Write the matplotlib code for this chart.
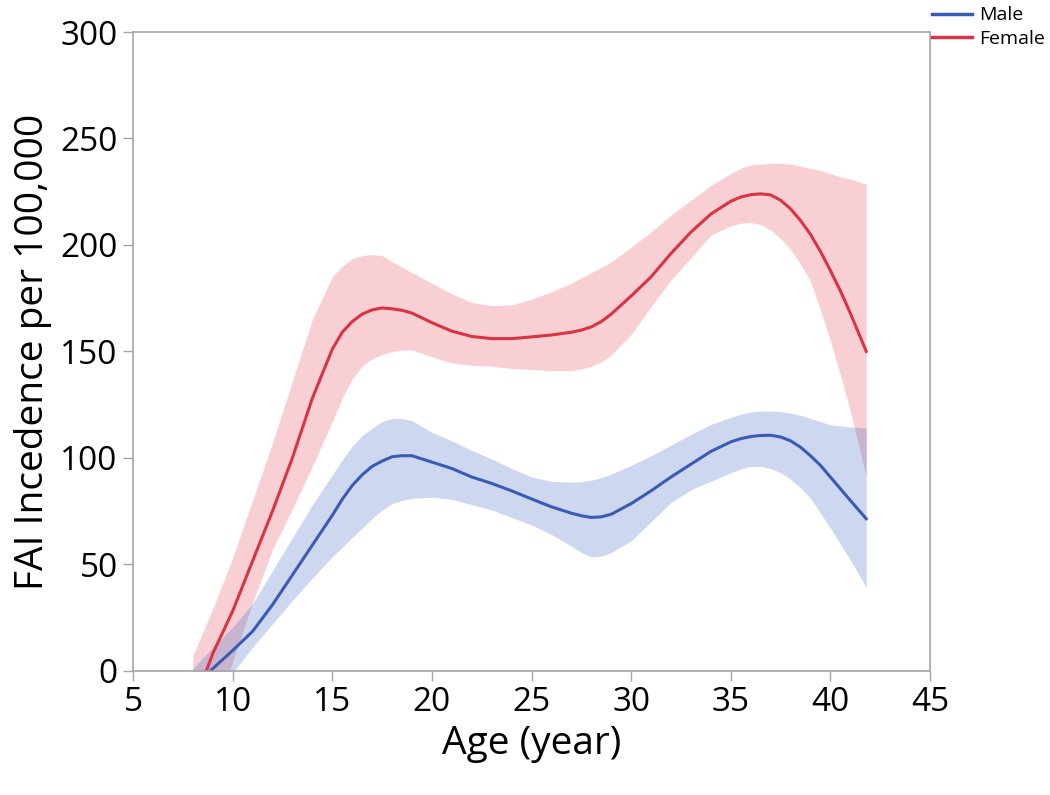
import numpy as np
import matplotlib.pyplot as plt
from matplotlib.lines import Line2D

plt.rcParams['font.family'] = ['Open Sans', 'DejaVu Sans']

ages = [8, 9, 10, 11, 12, 13, 14, 15, 15.5, 16, 16.5, 17, 17.5, 18, 18.5, 19,
        20, 21, 22, 23, 24, 25, 26, 27, 27.5, 28, 28.5, 29, 30, 31, 32, 33, 34,
        35, 35.5, 36, 36.5, 37, 37.5, 38, 38.5, 39, 39.5, 40, 40.5, 41, 41.8]

female_mean = [-17, 8, 28, 51.5, 75, 100, 128, 151, 159, 164, 167.5, 169.5,
               170.4, 170, 169.3, 168, 163.5, 159.5, 157, 156, 156, 156.8, 157.7,
               159, 160, 161.5, 164, 167.5, 176, 185, 196, 206, 214.5, 220.5,
               222.5, 223.6, 224, 223.5, 221, 217, 211.5, 205, 197, 188, 178.5,
               168, 150]
female_upper = [7, 29, 53, 80, 107, 136, 165, 185, 190, 193.5, 195, 195.5, 195,
                192, 189.5, 187, 182, 177, 173, 171.5, 171.8, 174.5, 178, 182,
                184.5, 187, 189.5, 192, 199, 206, 214, 221, 228, 233.5, 236,
                237.5, 238, 238.3, 238.3, 238, 237, 236, 235, 233.5, 232, 231,
                228.5]
female_lower = [-50, -24, 4, 32, 57, 76, 96, 117, 128, 137, 143, 146.5, 148.5,
                150, 150.5, 150.7, 147.5, 144.5, 143.5, 143, 142, 141.5, 141,
                141, 141.8, 143, 145, 148.4, 158, 171, 183.5, 194, 204.5, 209,
                210.2, 210.6, 209.5, 207, 203, 198, 191, 183, 169.5, 155, 139,
                122, 91]

male_mean = [-8, 1, 9.5, 18.5, 31, 45, 59, 73, 80.5, 87, 92, 96, 98.5, 100.5,
             101, 101, 98, 95, 91, 88, 84.5, 80.7, 77, 74, 72.8, 72, 72.3, 73.5,
             78.5, 84.5, 91, 97, 103, 107.5, 109, 110, 110.5, 110.6, 109.8, 108,
             105, 101, 96.5, 91, 85.5, 80, 71.4]
male_upper = [1, 11, 20.5, 31.5, 47, 62.5, 78, 92, 99, 105.5, 110.5, 114, 117,
              118.5, 118.5, 117.5, 112, 108, 103.5, 99.5, 95, 91, 89, 88.5, 88.8,
              89.5, 90.7, 92.4, 96.5, 101, 106, 111, 115.7, 119, 120.5, 121.5,
              122, 122, 121.7, 121, 120, 118.5, 117, 115.5, 115, 114.5, 114]
male_lower = [-20, -10, -1, 11, 22, 33, 43.5, 53.5, 58, 62.6, 67, 71.5, 75.5,
              78.5, 80, 81, 81.5, 80.5, 78, 75.5, 72, 68.5, 64, 58.5, 55.5, 53.5,
              53.8, 55.5, 61, 70, 79, 85, 89, 93, 94.8, 96, 96, 95, 93, 90, 86,
              81, 74, 67, 59.5, 52, 39.3]

x_ticks = [5, 10, 15, 20, 25, 30, 35, 40, 45]
y_ticks = [0, 50, 100, 150, 200, 250, 300]

male_color = '#3a5bb4'
female_color = '#d93344'
gray = '#a6a6a6'

fig = plt.figure(figsize=(10.5, 7.95), dpi=100)
ax = fig.add_axes([0.1267, 0.1563, 0.759, 0.8034])

ax.fill_between(ages, female_lower, female_upper, color='#e8606f', alpha=0.3,
                linewidth=0)
ax.fill_between(ages, male_lower, male_upper, color='#3a67c5', alpha=0.25,
                linewidth=0)
ax.plot(ages, female_mean, color=female_color, lw=2.2)
ax.plot(ages, male_mean, color=male_color, lw=2.2)

ax.set_xlim(5, 45)
ax.set_ylim(0, 300)
ax.set_xticks(x_ticks)
ax.set_yticks(y_ticks)
ax.tick_params(direction='out', length=7, width=1, color=gray, labelsize=24,
               pad=4)
for s in ax.spines.values():
    s.set_color(gray)
    s.set_linewidth(1.2)

ax.set_xlabel('Age (year)', fontsize=28, labelpad=4)
ax.set_ylabel('FAI Incedence per 100,000', fontsize=28, labelpad=6)

handles = [Line2D([], [], color=male_color, lw=2.5),
           Line2D([], [], color=female_color, lw=2.5)]
fig.legend(handles, ['Male', 'Female'], loc='upper right',
           bbox_to_anchor=(1.012, 1.014), frameon=False, fontsize=14,
           handlelength=2.1, handletextpad=0.35, labelspacing=0.3)

fig.savefig('out.png', dpi=100)
